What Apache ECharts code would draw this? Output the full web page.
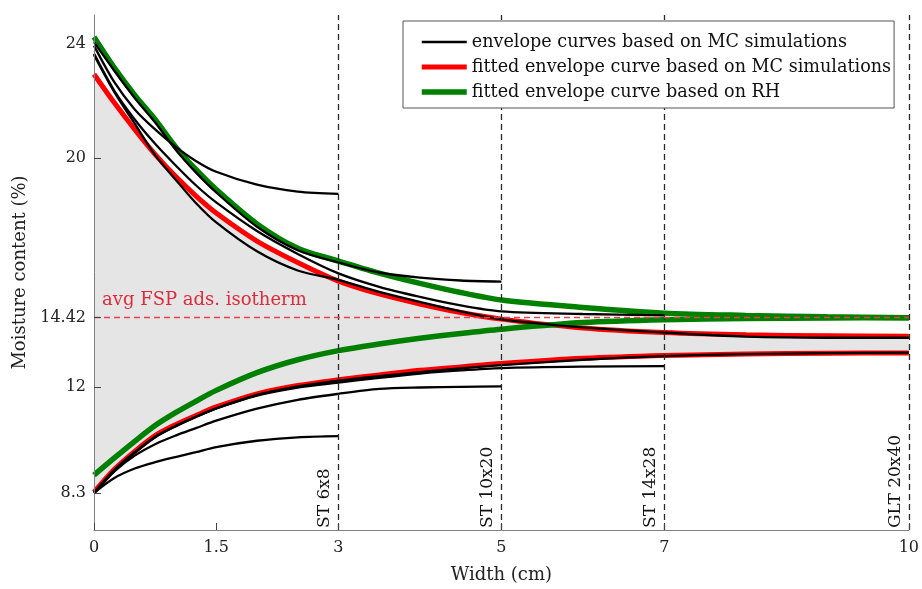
<!DOCTYPE html>
<html><head><meta charset="utf-8">
<script src="https://cdn.jsdelivr.net/npm/echarts@6/dist/echarts.min.js"></script>
<style>html,body{margin:0;padding:0;background:#fff}#c{width:922px;height:589px}</style>
</head><body><div id="c"></div>
<script>
// ---- data ----
const widthCm = [0,0.25,0.5,0.75,1,1.25,1.5,2,2.5,3,3.5,4,4.5,5,6,7,8,9,10];

const redUpper   = [22.93,21.93,21.0,20.13,19.36,18.68,18.08,17.1,16.35,15.7,15.25,14.9,14.6,14.37,14.06,13.9,13.82,13.79,13.77];
const redLower   = [8.32,9.12,9.75,10.3,10.68,11.0,11.3,11.76,12.05,12.25,12.42,12.58,12.7,12.82,13.0,13.1,13.15,13.18,13.19];
const greenUpper = [24.23,23.15,22.2,21.35,20.4,19.6,18.9,17.7,16.85,16.4,15.98,15.62,15.3,15.04,14.78,14.58,14.5,14.45,14.42];
const greenLower = [8.92,9.52,10.1,10.65,11.1,11.5,11.88,12.5,12.95,13.27,13.5,13.7,13.87,14.02,14.25,14.35,14.39,14.41,14.42];

// black envelope curves (each ends at its cross-section half width)
const upper3  = [23.93,22.65,21.7,21.0,20.4,19.9,19.52,19.07,18.83,18.75];
const upper5  = [24.05,23.05,22.1,21.25,20.3,19.5,18.8,17.6,16.78,16.35,16.0,15.82,15.72,15.68];
const upper7  = [23.65,22.35,21.35,20.5,19.75,19.05,18.45,17.45,16.65,15.97,15.5,15.15,14.85,14.64,14.55,14.5];
const upper10 = [23.6,22.3,21.2,20.1,19.25,18.43,17.75,16.74,16.07,15.74,15.32,14.97,14.64,14.36,14.08,13.9,13.76,13.72,13.72];
const lower3  = [8.3,8.82,9.15,9.37,9.55,9.72,9.9,10.12,10.24,10.28];
const lower5  = [8.3,9.05,9.6,10.0,10.3,10.56,10.82,11.24,11.55,11.76,11.93,11.98,12.0,12.02];
const lower7  = [8.3,9.1,9.72,10.26,10.64,10.96,11.25,11.7,11.98,12.15,12.32,12.47,12.58,12.66,12.71,12.73];
const lower10 = [8.3,9.08,9.7,10.24,10.62,10.95,11.25,11.72,12.02,12.22,12.38,12.52,12.65,12.76,12.95,13.08,13.15,13.18,13.2];

const fspValue = 14.42;
const fspLabel = 'avg FSP ads. isotherm';
const markerX = [3,5,7,10];
const markerNames = ['ST 6x8','ST 10x20','ST 14x28','GLT 20x40'];
const xTicks = [0,1.5,3,5,7,10];
const yTicks = [8.3,12,14.42,20,24];
const legendNames = ['envelope curves based on MC simulations','fitted envelope curve based on MC simulations','fitted envelope curve based on RH'];

// ---- chart ----
const FONT = 'DejaVu Serif';
const BLACK_W = 2.3, RED_W = 5, GREEN_W = 5.5;
const pairs = ys => ys.map((y,i)=>[widthCm[i], y]);
const smoothOpts = {smooth:0.3, symbol:'none', silent:true};
function curve(name, ys, color, w){
  return Object.assign({type:'line', name, data:pairs(ys), lineStyle:{color, width:w}, itemStyle:{color}, z:2}, smoothOpts);
}

const series = [
  // grey band between the fitted MC curves: grey under upper curve, white under lower curve
  Object.assign({type:'line', name:'bandTop', data:pairs(redUpper), areaStyle:{color:'#e5e5e5', opacity:1, origin:'start'},
     lineStyle:{width:0,opacity:0}, z:1}, smoothOpts),
  Object.assign({type:'line', name:'bandBottom', data:pairs(redLower), areaStyle:{color:'#ffffff', opacity:1, origin:'start'},
     lineStyle:{width:0,opacity:0}, z:1}, smoothOpts),
  curve(legendNames[1], redUpper, '#ff0000', RED_W),
  curve(legendNames[1], redLower, '#ff0000', RED_W),
  curve(legendNames[2], greenUpper, '#008000', GREEN_W),
  curve(legendNames[2], greenLower, '#008000', GREEN_W),
];
[upper3,upper5,upper7,upper10,lower3,lower5,lower7,lower10].forEach(c=>series.push(curve(legendNames[0], c, '#000000', BLACK_W)));

series.push({type:'line', name:'markers', data:[], silent:true, z:3,
  markLine:{symbol:['none','none'], silent:true, animation:false,
    lineStyle:{color:'#2a2a2a', type:[6,4], width:1.3},
    label:{show:true, position:'insideStartTop', formatter:'{b}', fontFamily:FONT, fontSize:17, color:'#111', distance:[2,5]},
    data: markerX.map((x,i)=>({xAxis:x, name:markerNames[i]}))}});
series.push({type:'line', name:'fsp', data:[], silent:true, z:3,
  markLine:{symbol:['none','none'], silent:true, animation:false,
    lineStyle:{color:'#e8414d', type:[6,4], width:1.3},
    label:{show:true, position:'insideStartTop', formatter:'{b}', fontFamily:FONT, fontSize:18, color:'#dd2b3a', distance:8},
    data:[{yAxis:fspValue, name:fspLabel}]}});

const chart = echarts.init(document.getElementById('c'), null, {renderer:'canvas'});
chart.setOption({
  animation:false,
  backgroundColor:'#fff',
  grid:{left:94, right:10, top:15, bottom:57, containLabel:false},
  legend:{
    data:[
      {name:legendNames[0], lineStyle:{color:'#000', width:BLACK_W}},
      {name:legendNames[1], lineStyle:{color:'#ff0000', width:RED_W}},
      {name:legendNames[2], lineStyle:{color:'#008000', width:GREEN_W}}
    ],
    orient:'vertical', left:403, top:21, selectedMode:false, z:20,
    backgroundColor:'#fff', borderColor:'#555', borderWidth:1, padding:[12,3,7,16],
    itemWidth:45, itemHeight:12, itemGap:7,
    itemStyle:{opacity:0},
    textStyle:{fontFamily:FONT, fontSize:17.6, color:'#111'}},
  xAxis:{type:'value', min:0, max:10, name:'Width (cm)', nameLocation:'middle', nameGap:36, z:10,
    nameTextStyle:{fontFamily:FONT, fontSize:18, color:'#222'},
    axisLine:{lineStyle:{color:'#808080'}},
    axisTick:{inside:true, length:7, customValues:xTicks, lineStyle:{color:'#444'}},
    axisLabel:{customValues:xTicks, fontFamily:FONT, fontSize:16, color:'#222', margin:10},
    splitLine:{show:false}},
  yAxis:{type:'value', min:7, max:25, name:'Moisture content (%)', nameLocation:'middle', nameGap:62, z:10,
    nameTextStyle:{fontFamily:FONT, fontSize:18, color:'#222'},
    axisLine:{show:true, lineStyle:{color:'#808080'}},
    axisTick:{show:true, inside:true, length:7, customValues:yTicks, lineStyle:{color:'#444'}},
    axisLabel:{customValues:yTicks, fontFamily:FONT, fontSize:16, color:'#222', margin:8},
    splitLine:{show:false}},
  series
});
</script></body></html>
